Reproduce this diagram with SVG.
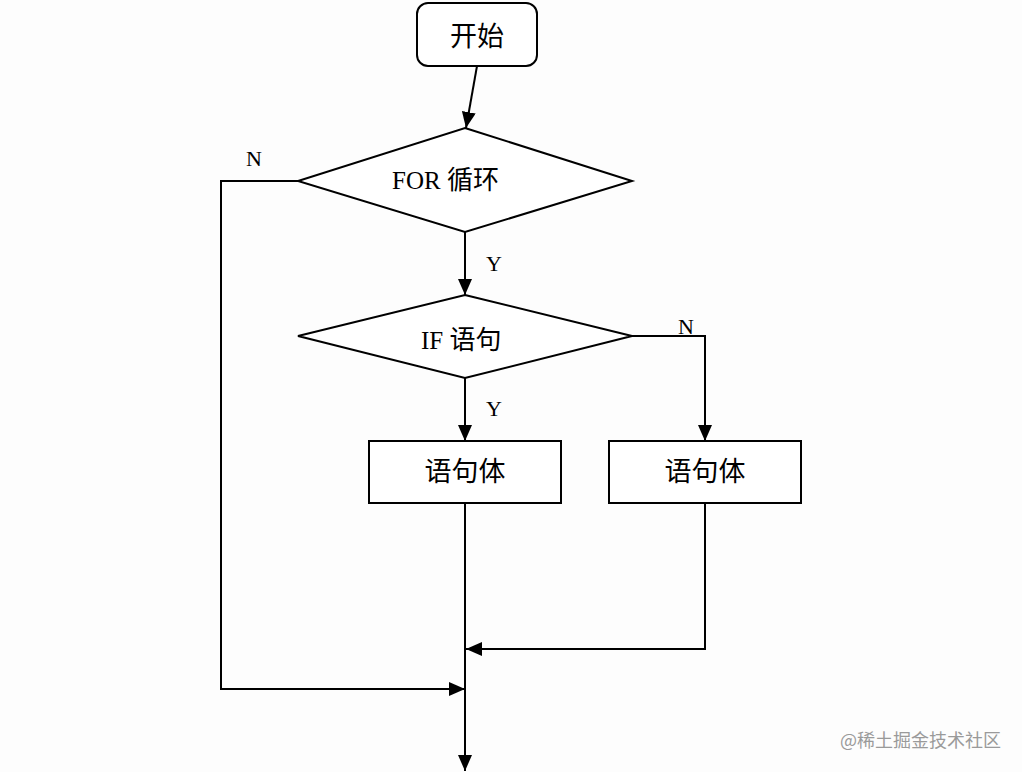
<svg xmlns="http://www.w3.org/2000/svg" width="1022" height="772" viewBox="0 0 1022 772">
<defs>
<marker id="ah" viewBox="0 0 16 14" refX="16" refY="7" markerWidth="16" markerHeight="14" markerUnits="userSpaceOnUse" orient="auto">
<path d="M0,0 L16,7 L0,14 Z" fill="#000"/>
</marker>
</defs>
<style>
.shape{fill:#fff;stroke:#000;stroke-width:2}
.line{fill:none;stroke:#000;stroke-width:2}
.cn{font-family:"Noto Sans CJK SC","Liberation Sans",sans-serif;font-size:27px;fill:#000;text-anchor:middle}
.mix{font-family:"Liberation Serif","Noto Sans CJK SC",serif;font-size:25px;fill:#000}
.mix tspan{font-family:"Noto Sans CJK SC",sans-serif;font-size:26px}
.lbl{font-family:"Liberation Serif",serif;font-size:22px;fill:#000;text-anchor:middle}
.wm{font-family:"Noto Sans CJK SC",sans-serif;font-size:18px;fill:#9a9a9a}
</style>
<rect width="1022" height="772" fill="#fdfdfd"/>
<g id="connectors">
<line class="line" x1="477" y1="66" x2="466" y2="128" marker-end="url(#ah)"/>
<line class="line" x1="465" y1="232" x2="465" y2="295" marker-end="url(#ah)"/>
<line class="line" x1="465" y1="378" x2="465" y2="441" marker-end="url(#ah)"/>
<polyline class="line" points="632,336 705,336 705,441" marker-end="url(#ah)"/>
<polyline class="line" points="298,181 221,181 221,689 465,689" marker-end="url(#ah)"/>
<polyline class="line" points="705,503 705,649 466,649" marker-end="url(#ah)"/>
<line class="line" x1="465" y1="503" x2="465" y2="771" marker-end="url(#ah)"/>
</g>
<g id="start">
<rect class="shape" x="417" y="3" width="120" height="63" rx="11"/>
<text class="cn" x="477" y="46">开始</text>
</g>
<g id="for">
<polygon class="shape" points="465,128 632,181 465,232 298,181"/>
<text class="mix" x="392" y="189">FOR <tspan>循环</tspan></text>
</g>
<g id="if">
<polygon class="shape" points="465,295 632,336 465,378 298,336"/>
<text class="mix" x="421" y="349">IF <tspan>语句</tspan></text>
</g>
<g id="body1">
<rect class="shape" x="369" y="441" width="192" height="62"/>
<text class="cn" x="465" y="481">语句体</text>
</g>
<g id="body2">
<rect class="shape" x="609" y="441" width="192" height="62"/>
<text class="cn" x="705" y="481">语句体</text>
</g>
<g id="labels">
<text class="lbl" x="254" y="166">N</text>
<text class="lbl" x="494" y="271">Y</text>
<text class="lbl" x="686" y="334">N</text>
<text class="lbl" x="494" y="416">Y</text>
</g>
<text class="wm" x="840" y="747">@稀土掘金技术社区</text>
</svg>
